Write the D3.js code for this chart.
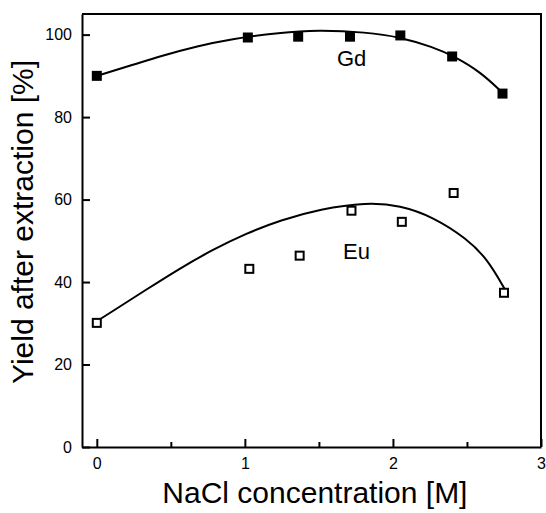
<!DOCTYPE html>
<html>
<head>
<meta charset="utf-8">
<script src="https://cdn.jsdelivr.net/npm/d3@7"></script>
<style>
  body { margin: 0; background: #fff; }
  svg { display: block; font-family: "Liberation Sans", Arial, sans-serif; }
</style>
</head>
<body>
<div id="visualization"></div>
<script>
// measured points
let naclGd = [0, 1.02, 1.36, 1.71, 2.05, 2.40, 2.74]
let yieldGd = [90.0, 99.3, 99.5, 99.5, 99.8, 94.7, 85.7]
let naclEu = [0, 1.03, 1.37, 1.72, 2.06, 2.41, 2.75]
let yieldEu = [30.1, 43.2, 46.4, 57.3, 54.6, 61.6, 37.4]

// fitted curves
let fitGdX = [0, 0.22, 0.45, 0.68, 0.90, 1.24, 1.49, 1.82, 2.05, 2.27, 2.41, 2.59, 2.74]
let fitGdY = [90.0, 92.4, 95.0, 97.2, 98.9, 100.5, 101.1, 100.6, 99.4, 97.0, 94.8, 91.0, 85.9]
let fitEuX = [0, 0.11, 0.34, 0.56, 0.78, 1.01, 1.24, 1.51, 1.82, 2.05, 2.27, 2.50, 2.64, 2.76]
let fitEuY = [30.5, 33.0, 38.3, 43.3, 47.8, 51.8, 55.0, 57.7, 59.3, 58.6, 55.8, 50.5, 45.5, 38.0]

let xTicks = [0, 1, 2, 3]
let xMinorTicks = [0.5, 1.5, 2.5]
let yTicks = [0, 20, 40, 60, 80, 100]

let chartWidth = 546
let chartHeight = 513
let plotLeft = 82, plotRight = 541, plotTop = 14, plotBottom = 447

let svg = d3.select('#visualization')
  .append('svg')
    .attr('width', chartWidth)
    .attr('height', chartHeight)

let xScale = d3.scaleLinear().domain([-0.1, 3]).range([plotLeft, plotRight])
let yScale = d3.scaleLinear().domain([0, 105]).range([plotBottom, plotTop])

// frame top + right
svg.append('path')
  .attr('d', `M${plotLeft},${plotTop}H${plotRight}V${plotBottom}`)
  .attr('fill', 'none')
  .attr('stroke', '#000')
  .attr('stroke-width', 2)

svg.append('g')
  .attr('transform', `translate(0,${plotBottom})`)
  .call(d3.axisBottom(xScale).tickValues(xTicks).tickFormat(d3.format('d'))
    .tickSizeInner(-8).tickSizeOuter(0).tickPadding(11))
svg.append('g')
  .attr('transform', `translate(0,${plotBottom})`)
  .call(d3.axisBottom(xScale).tickValues(xMinorTicks).tickFormat('')
    .tickSizeInner(-5).tickSizeOuter(0))
  .call(g => g.select('.domain').remove())

svg.append('g')
  .attr('transform', `translate(${plotLeft},0)`)
  .call(d3.axisLeft(yScale).tickValues(yTicks)
    .tickSizeInner(-8).tickSizeOuter(0).tickPadding(10))

svg.selectAll('.domain').attr('stroke-width', 2)
svg.selectAll('.tick line').attr('stroke-width', 2)
svg.selectAll('.tick text').attr('font-size', 16).attr('fill', '#000')
  .style('font-family', '"Liberation Sans", Arial, sans-serif')

// fitted lines
let line = d3.line()
  .x(d => xScale(d[0]))
  .y(d => yScale(d[1]))
  .curve(d3.curveBasis)

svg.append('path')
  .datum(fitGdX.map((x, i) => [x, fitGdY[i]]))
  .attr('d', line)
  .attr('fill', 'none').attr('stroke', '#000').attr('stroke-width', 2)

svg.append('path')
  .datum(fitEuX.map((x, i) => [x, fitEuY[i]]))
  .attr('d', line)
  .attr('fill', 'none').attr('stroke', '#000').attr('stroke-width', 2)

// markers
svg.selectAll('rect.gd')
  .data(naclGd.map((x, i) => [x, yieldGd[i]]))
  .enter()
  .append('rect')
    .attr('class', 'gd')
    .attr('x', d => xScale(d[0]) - 5)
    .attr('y', d => yScale(d[1]) - 5)
    .attr('width', 10)
    .attr('height', 10)
    .attr('fill', '#000')

svg.selectAll('rect.eu')
  .data(naclEu.map((x, i) => [x, yieldEu[i]]))
  .enter()
  .append('rect')
    .attr('class', 'eu')
    .attr('x', d => xScale(d[0]) - 4)
    .attr('y', d => yScale(d[1]) - 4)
    .attr('width', 8)
    .attr('height', 8)
    .attr('fill', '#fff')
    .attr('stroke', '#000')
    .attr('stroke-width', 2)

// series labels
svg.append('text').text('Gd')
  .attr('x', 337).attr('y', 66)
  .attr('font-size', 22)
svg.append('text').text('Eu')
  .attr('x', 343).attr('y', 259)
  .attr('font-size', 22)

// axis titles
svg.append('text').text('NaCl concentration [M]')
  .attr('x', (xScale(0) + xScale(3)) / 2 - 4)
  .attr('y', 503)
  .attr('text-anchor', 'middle')
  .attr('font-size', 30)

svg.append('text').text('Yield after extraction [%]')
  .attr('transform', 'translate(33,222) rotate(-90)')
  .attr('text-anchor', 'middle')
  .attr('font-size', 30)
</script>
</body>
</html>
